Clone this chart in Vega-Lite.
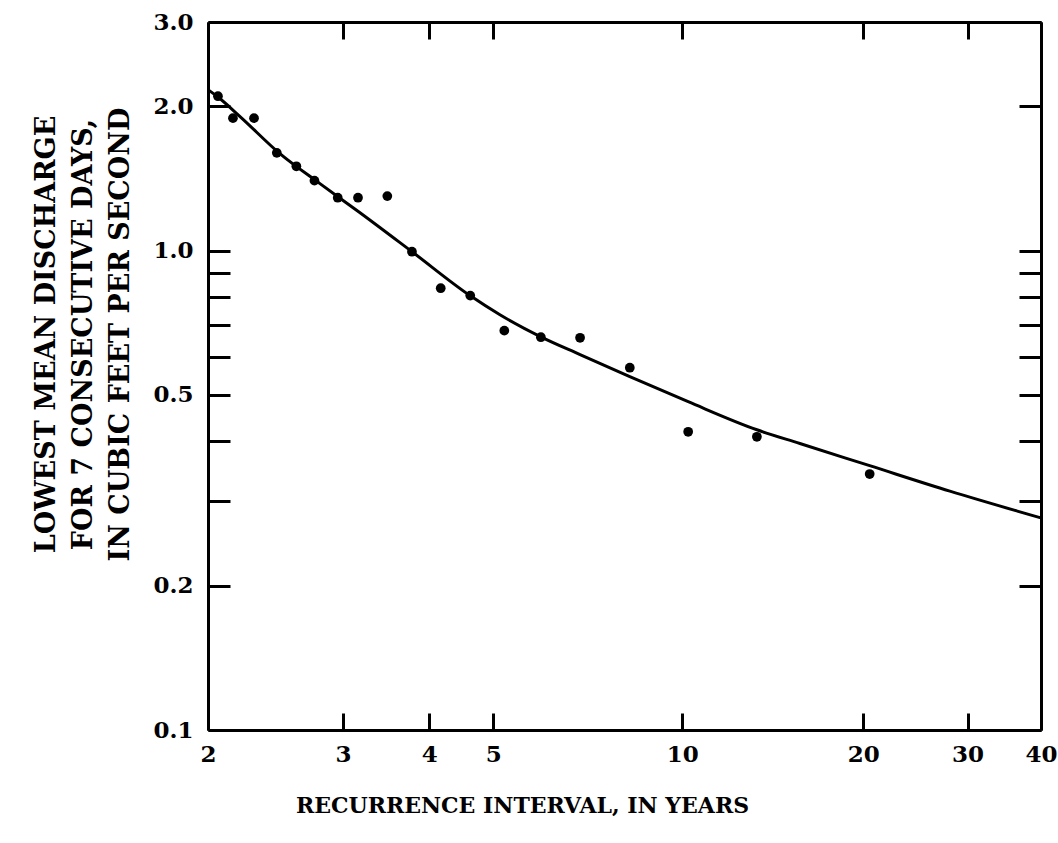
{
  "$schema": "https://vega.github.io/schema/vega-lite/v6.json",
  "width": 833,
  "height": 708,
  "autosize": {"type": "none"},
  "padding": {"left": 208, "top": 22, "right": 17, "bottom": 113},
  "background": "white",
  "config": {
    "view": {"stroke": null},
    "font": "DejaVu Serif",
    "axis": {
      "grid": false,
      "domainColor": "black",
      "domainWidth": 3,
      "tickColor": "black",
      "tickWidth": 3,
      "labelFont": "DejaVu Serif",
      "labelFontWeight": "bold",
      "labelFontSize": 23,
      "labelColor": "black",
      "titleFont": "DejaVu Serif",
      "titleFontWeight": "bold",
      "titleFontSize": 22,
      "titleColor": "black"
    }
  },
  "datasets": {
    "points": [
      {"T": 2.056, "Q": 2.10},
      {"T": 2.145, "Q": 1.89},
      {"T": 2.28, "Q": 1.89},
      {"T": 2.44, "Q": 1.60},
      {"T": 2.59, "Q": 1.50},
      {"T": 2.74, "Q": 1.40},
      {"T": 2.95, "Q": 1.29},
      {"T": 3.15, "Q": 1.29},
      {"T": 3.47, "Q": 1.30},
      {"T": 3.77, "Q": 0.995},
      {"T": 4.16, "Q": 0.835},
      {"T": 4.61, "Q": 0.806},
      {"T": 5.2, "Q": 0.681},
      {"T": 5.93, "Q": 0.66},
      {"T": 6.84, "Q": 0.658},
      {"T": 8.22, "Q": 0.57},
      {"T": 10.23, "Q": 0.419},
      {"T": 13.28, "Q": 0.409},
      {"T": 20.5, "Q": 0.342}
    ],
    "curve": [
      {"T": 2.0, "Q": 2.168},
      {"T": 2.056, "Q": 2.092},
      {"T": 2.189, "Q": 1.905},
      {"T": 2.463, "Q": 1.594},
      {"T": 2.788, "Q": 1.38},
      {"T": 3.171, "Q": 1.2},
      {"T": 3.771, "Q": 0.995},
      {"T": 4.606, "Q": 0.806},
      {"T": 5.12, "Q": 0.735},
      {"T": 5.93, "Q": 0.661},
      {"T": 6.84, "Q": 0.607},
      {"T": 8.22, "Q": 0.546},
      {"T": 10.23, "Q": 0.484},
      {"T": 13.28, "Q": 0.423},
      {"T": 15.66, "Q": 0.396},
      {"T": 20.5, "Q": 0.356},
      {"T": 28.0, "Q": 0.315},
      {"T": 40, "Q": 0.277}
    ]
  },
  "layer": [
    {
      "data": {"name": "points"},
      "transform": [{"calculate": "-log(-log(1 - 1 / datum.T))", "as": "g"}],
      "mark": {"type": "circle", "color": "black", "size": 95, "opacity": 1},
      "encoding": {
        "x": {
          "field": "g",
          "type": "quantitative",
          "scale": {"domain": [0.366513, 3.67624], "nice": false, "zero": false},
          "axis": {
            "orient": "bottom",
            "values": [0.366513, 0.90272, 1.2459, 1.49994, 2.25037, 2.9702, 3.38429, 3.67624],
            "labelExpr": "format(round(1 / (1 - exp(-exp(-datum.value)))), 'd')",
            "tickSize": -17,
            "labelPadding": 30,
            "labelFlush": false,
            "labelOverlap": false,
            "title": "RECURRENCE INTERVAL, IN YEARS",
            "titleX": 314,
            "titleY": 75,
            "titleAlign": "center",
            "titleBaseline": "middle"
          }
        },
        "y": {
          "field": "Q",
          "type": "quantitative",
          "scale": {"type": "log", "domain": [0.1, 3], "nice": false},
          "axis": {
            "orient": "left",
            "values": [0.1, 0.2, 0.3, 0.4, 0.5, 0.6, 0.7, 0.8, 0.9, 1, 2, 3],
            "labelExpr": "indexof([0.1, 0.2, 0.5, 1, 2, 3], datum.value) >= 0 ? format(datum.value, '.1f') : ''",
            "tickSize": -22,
            "labelPadding": 37,
            "labelFlush": false,
            "labelOverlap": false,
            "title": ["LOWEST MEAN DISCHARGE", "FOR 7 CONSECUTIVE DAYS,", "IN CUBIC FEET PER SECOND"],
            "titleFontSize": 27,
            "titleLineHeight": 37,
            "titleX": -175,
            "titleY": 312,
            "titleAlign": "center",
            "titleBaseline": "top",
            "titleAngle": -90
          }
        }
      }
    },
    {
      "data": {"name": "curve"},
      "transform": [{"calculate": "-log(-log(1 - 1 / datum.T))", "as": "g"}],
      "mark": {"type": "line", "color": "black", "strokeWidth": 3, "interpolate": "monotone"},
      "encoding": {
        "x": {
          "field": "g",
          "type": "quantitative",
          "scale": {"domain": [0.366513, 3.67624], "nice": false, "zero": false},
          "axis": {
            "orient": "top",
            "values": [0.366513, 0.90272, 1.2459, 1.49994, 2.25037, 2.9702, 3.38429, 3.67624],
            "labels": false,
            "tickSize": -17,
            "title": null
          }
        },
        "y": {
          "field": "Q",
          "type": "quantitative",
          "scale": {"type": "log", "domain": [0.1, 3], "nice": false},
          "axis": {
            "orient": "right",
            "values": [0.1, 0.2, 0.3, 0.4, 0.5, 0.6, 0.7, 0.8, 0.9, 1, 2, 3],
            "labels": false,
            "tickSize": -22,
            "title": null
          }
        }
      }
    }
  ],
  "resolve": {"scale": {"x": "independent", "y": "independent"}}
}
